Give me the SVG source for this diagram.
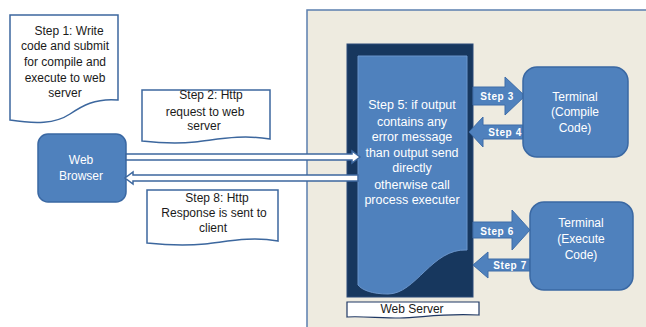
<svg xmlns="http://www.w3.org/2000/svg" width="646" height="327" viewBox="0 0 646 327">
<style>
.doc{fill:#fff;stroke:#3C679E;stroke-width:1.5}
.t{font-family:"Liberation Sans",Arial,sans-serif;font-size:12px;text-anchor:middle}
.dk{fill:#1a1a1a}
.w{fill:#fff}
.node{fill:#4F81BD;stroke:#3A68A3;stroke-width:1.5}
.blk{fill:#4F81BD;stroke:#3E6DA8;stroke-width:1}
.st{font-family:"Liberation Sans",Arial,sans-serif;font-size:10px;font-weight:bold;letter-spacing:0.6px;text-anchor:middle;fill:#fff}
.hollow{fill:#fff;stroke:#3C679E;stroke-width:1.5}
</style>
<rect width="646" height="327" fill="#fff"/>
<g id="panel">
<rect x="307" y="10" width="345" height="325" fill="#EEEBE0" stroke="#5B7FAE" stroke-width="1.5"/>
</g>
<g id="step1">
<path class="doc" d="M10,15 H118 V100 C95,98 82,106 70,114 C55,124 35,124 10,120 Z"/>
<text class="t dk"><tspan x="69" y="35">Step 1: Write</tspan><tspan x="65" y="50">code and submit</tspan><tspan x="65" y="66">for compile and</tspan><tspan x="65" y="82">execute to web</tspan><tspan x="65" y="97">server</tspan></text>
</g>
<g id="step2">
<path class="doc" d="M142,90 H270 V139 C240,134 215,140 195,142 C175,144 160,143 142,141 Z"/>
<text class="t dk"><tspan x="211" y="99">Step 2: Http</tspan><tspan x="205" y="116">request to web</tspan><tspan x="204" y="130">server</tspan></text>
</g>
<g id="step8">
<path class="doc" d="M147,190 H278 V241 C250,236 225,242 205,244 C185,246 165,245 147,243 Z"/>
<text class="t dk"><tspan x="217" y="202">Step 8: Http</tspan><tspan x="214" y="217">Response is sent to</tspan><tspan x="213" y="232">client</tspan></text>
</g>
<g id="browser">
<rect class="node" x="38" y="134" width="88" height="68" rx="10"/>
<text class="t w"><tspan x="81" y="164">Web</tspan><tspan x="81" y="180">Browser</tspan></text>
</g>
<g id="webserver">
<rect x="347" y="44" width="126" height="253" fill="#17375E" stroke="#2B4A78" stroke-width="1"/>
<path d="M358,56 H467 V250 C432,248 416,294 388,294 C372,294 362,290 358,285 Z" fill="#4F81BD" stroke="#6B95CB" stroke-width="1"/>
<text class="t w" style="font-size:12.5px"><tspan x="412" y="109">Step 5: if output</tspan><tspan x="412" y="126">contains any</tspan><tspan x="412" y="141">error message</tspan><tspan x="412" y="157">than output send</tspan><tspan x="412" y="172">directly</tspan><tspan x="412" y="189">otherwise call</tspan><tspan x="412" y="204">process  executer</tspan></text>
</g>
<g id="webserver-label">
<path d="M347,302 H479 V315 C440,313 420,318 400,318 C380,318 360,316 347,317 Z" fill="#fff" stroke="#1F3864" stroke-width="1.2"/>
<text class="t dk" x="412" y="313">Web Server</text>
</g>
<g id="connectors">
<path class="hollow" d="M126,154 H352 V151 L360,157 L352,163 V160 H126 Z"/>
<path class="hollow" d="M358,175 H133 V172 L125,178 L133,184 V181 H358 Z"/>
<polygon class="blk" points="473,87 505,87 505,77 525,96 505,115 505,105 473,105"/>
<text class="st" x="497" y="100">Step 3</text>
<polygon class="blk" points="523,125 483,125 483,117 469,132 483,147 483,139 523,139"/>
<text class="st" x="505" y="136">Step 4</text>
<polygon class="blk" points="473,222 512,222 512,210 530,230 512,250 512,238 473,238"/>
<text class="st" x="497" y="235">Step 6</text>
<polygon class="blk" points="530,259 488,259 488,252 473,265 488,278 488,271 530,271"/>
<text class="st" x="510" y="269">Step 7</text>
</g>
<g id="terminal-compile">
<rect class="node" x="523" y="67" width="105" height="90" rx="14"/>
<text class="t w"><tspan x="575" y="101">Terminal</tspan><tspan x="575" y="116">(Compile</tspan><tspan x="575" y="132">Code)</tspan></text>
</g>
<g id="terminal-execute">
<rect class="node" x="530" y="202" width="103" height="88" rx="14"/>
<text class="t w"><tspan x="581" y="227">Terminal</tspan><tspan x="581" y="243">(Execute</tspan><tspan x="581" y="259">Code)</tspan></text>
</g>
</svg>
